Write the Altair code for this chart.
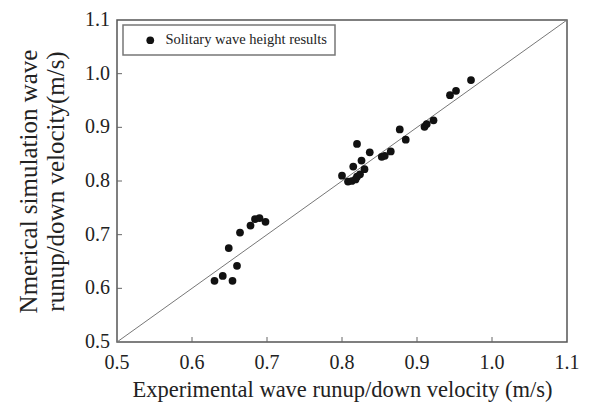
import altair as alt
import pandas as pd

exp_vel = [0.630, 0.641, 0.654, 0.660, 0.649, 0.664, 0.678, 0.684, 0.690, 0.698,
           0.800, 0.808, 0.813, 0.815, 0.820, 0.824, 0.826, 0.830, 0.820, 0.837,
           0.853, 0.857, 0.865, 0.877, 0.885, 0.910, 0.913, 0.922, 0.944, 0.952, 0.972, 0.818]
sim_vel = [0.614, 0.623, 0.614, 0.642, 0.675, 0.704, 0.717, 0.729, 0.731, 0.724,
           0.810, 0.799, 0.800, 0.827, 0.808, 0.8125, 0.838, 0.822, 0.869, 0.8535,
           0.845, 0.847, 0.855, 0.896, 0.877, 0.901, 0.906, 0.913, 0.960, 0.968, 0.988, 0.803]
series_name = "Solitary wave height results"
ticks = [0.5, 0.6, 0.7, 0.8, 0.9, 1.0, 1.1]
tick_labels = ["0.5", "0.6", "0.7", "0.8", "0.9", "1.0", "1.1"]
diag = [0.5, 1.1]

W, H = 450, 322
FONT = "Liberation Serif"

pts = pd.DataFrame({"x": exp_vel, "y": sim_vel, "s": [series_name] * len(exp_vel)})
line_df = pd.DataFrame({"x": diag, "y": diag})
tick_df = pd.DataFrame({"v": ticks[1:-1]})
lab_df = pd.DataFrame({"v": ticks, "t": tick_labels})

xs = alt.Scale(domain=[0.5, 1.1], nice=False, zero=False)
ys = alt.Scale(domain=[0.5, 1.1], nice=False, zero=False)

xaxis = alt.Axis(values=ticks, labels=False, titleFontSize=22.5,
                 title="Experimental wave runup/down velocity (m/s)", titlePadding=36)
yaxis = alt.Axis(values=ticks, labels=False, titleFontSize=25,
                 title=["Nmerical simulation wave", "runup/down velocity(m/s)"],
                 titlePadding=49, titleLineHeight=27)

diag_line = alt.Chart(line_df).mark_line(color="#777", strokeWidth=1).encode(
    x=alt.X("x:Q", scale=xs, axis=xaxis),
    y=alt.Y("y:Q", scale=ys, axis=yaxis),
)

points = alt.Chart(pts).mark_circle(size=60, opacity=1).encode(
    x=alt.X("x:Q", scale=xs, axis=xaxis),
    y=alt.Y("y:Q", scale=ys, axis=yaxis),
    color=alt.Color("s:N", scale=alt.Scale(range=["#111"]),
                    legend=alt.Legend(title=None, orient="none", legendX=6, legendY=5,
                                      symbolSize=60, symbolType="circle")),
)

xticks = alt.Chart(tick_df).mark_rule(color="#666", strokeWidth=1).encode(
    x=alt.X("v:Q", scale=xs, axis=xaxis), y=alt.value(H), y2=alt.value(H - 5))
yticks = alt.Chart(tick_df).mark_rule(color="#666", strokeWidth=1).encode(
    y=alt.Y("v:Q", scale=ys, axis=yaxis), x=alt.value(0), x2=alt.value(5))

xlabels = alt.Chart(lab_df).mark_text(font=FONT, fontSize=20, color="#222",
                                      baseline="middle", align="center").encode(
    x=alt.X("v:Q", scale=xs, axis=xaxis), y=alt.value(H + 21), text="t:N")
ylabels = alt.Chart(lab_df).mark_text(font=FONT, fontSize=20, color="#222",
                                      baseline="middle", align="right").encode(
    y=alt.Y("v:Q", scale=ys, axis=yaxis), x=alt.value(-7), text="t:N")

chart = alt.layer(diag_line, xticks, yticks, xlabels, ylabels, points).properties(
    width=W, height=H,
    autosize=alt.AutoSizeParams(type="none"),
    padding={"left": 117, "top": 20, "right": 22, "bottom": 64},
).configure(background="white").configure_view(stroke="#555", strokeWidth=1.5).configure_axis(
    ticks=False, domain=False, grid=False,
    titleFont=FONT, titleFontWeight="normal", titleColor="#222",
).configure_legend(
    strokeColor="#777", strokeWidth=1.5, padding=8, symbolOffset=12, labelOffset=8,
    labelFont=FONT, labelFontSize=14.5, labelColor="#222", labelLimit=300,
)

chart.save("out.html", embed_options={"renderer": "svg", "actions": False})
